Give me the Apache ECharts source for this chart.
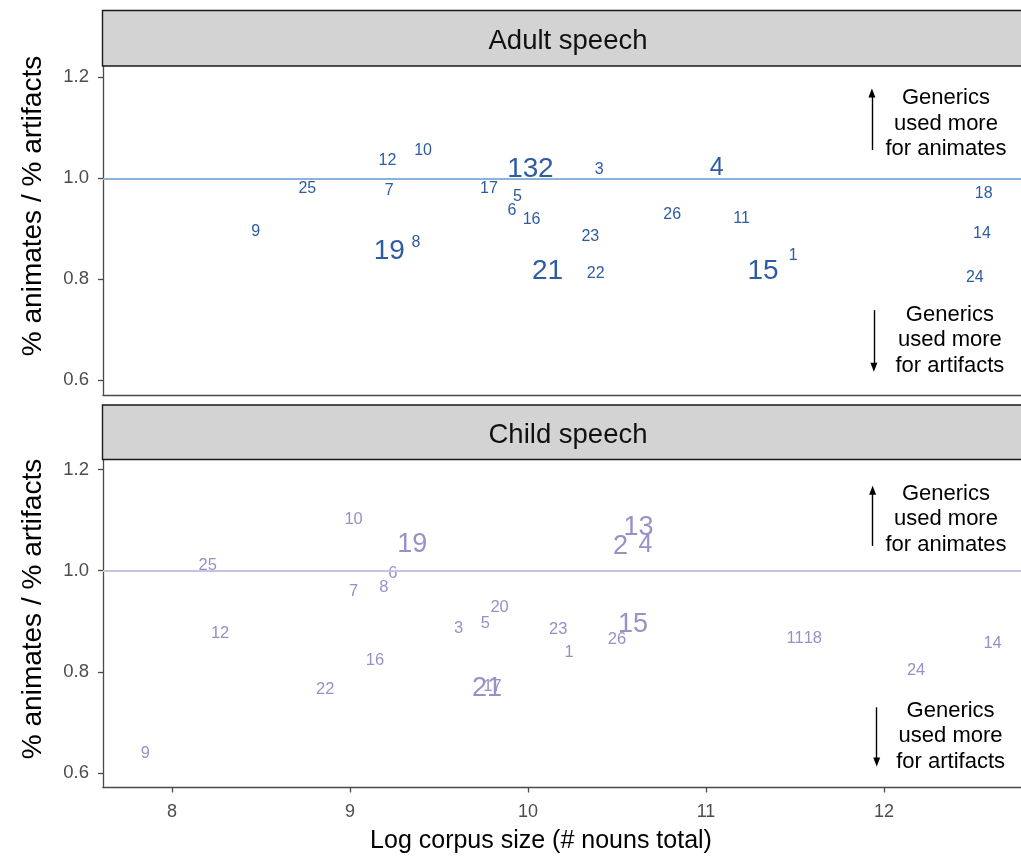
<!DOCTYPE html>
<html>
<head>
<meta charset="utf-8">
<script src="https://cdn.jsdelivr.net/npm/echarts@6/dist/echarts.min.js"></script>
<style>
  html, body { margin: 0; padding: 0; background: #ffffff; }
  #chart { width: 1021px; height: 857px; }
</style>
</head>
<body>
<div id="chart"></div>
<script>
// ---- Data: language id, log corpus size, ratio (% animates / % artifacts), label size ----
const adultIds   = [1, 2, 3, 4, 5, 6, 7, 8, 9, 10, 11, 12, 13, 14, 15, 16, 17, 18, 19, 21, 22, 23, 24, 25, 26];
const adultLogN  = [11.49, 10.10, 10.40, 11.06, 9.94, 9.91, 9.22, 9.37, 8.47, 9.41, 11.20, 9.21, 9.97, 12.55, 11.32, 10.02, 9.78, 12.56, 9.22, 10.11, 10.38, 10.35, 12.51, 8.76, 10.81];
const adultRatio = [0.850, 1.020, 1.020, 1.023, 0.966, 0.939, 0.979, 0.876, 0.898, 1.057, 0.924, 1.038, 1.020, 0.894, 0.818, 0.921, 0.983, 0.973, 0.859, 0.818, 0.814, 0.888, 0.807, 0.983, 0.931];
const adultSize  = [16, 28, 16, 25, 16, 16, 16, 16, 16, 16, 16, 16, 28, 16, 28, 16, 16, 16, 28, 28, 16, 16, 16, 16, 16];

const childIds   = [1, 2, 3, 4, 5, 6, 7, 8, 9, 10, 11, 12, 13, 14, 15, 16, 17, 18, 19, 20, 21, 22, 23, 24, 25, 26];
const childLogN  = [10.23, 10.52, 9.61, 10.66, 9.76, 9.24, 9.02, 9.19, 7.85, 9.02, 11.50, 8.27, 10.62, 12.61, 10.59, 9.14, 9.80, 11.60, 9.35, 9.84, 9.77, 8.86, 10.17, 12.18, 8.20, 10.50];
const childRatio = [0.842, 1.051, 0.889, 1.054, 0.899, 0.997, 0.962, 0.970, 0.642, 1.105, 0.870, 0.879, 1.089, 0.860, 0.897, 0.825, 0.775, 0.870, 1.054, 0.931, 0.771, 0.769, 0.886, 0.805, 1.013, 0.868];
const childSize  = [16.5, 27, 16.5, 25, 16.5, 16.5, 16.5, 16.5, 16.5, 16.5, 16.5, 16.5, 27, 16.5, 27, 16.5, 16.5, 16.5, 27, 16.5, 27, 16.5, 16.5, 16.5, 16.5, 16.5];

const xTickValues = [8, 9, 10, 11, 12];
const yTickValues = [0.6, 0.8, 1.0, 1.2];
const referenceRatio = 1.0;

// Panel titles and annotation text
const panelTitles = ['Adult speech', 'Child speech'];
const xTitle = 'Log corpus size (# nouns total)';
const yTitle = '% animates / % artifacts';
const upNote = 'Generics\nused more\nfor animates';
const downNote = 'Generics\nused more\nfor artifacts';

// Annotation anchors in data units: [arrowX, arrowFrom, arrowTo, textX, textY]
const upAnnot   = [[11.932, 1.056, 1.169, 12.348, 1.110], [11.936, 1.049, 1.159, 12.348, 1.104]];
const downAnnot = [[11.943, 0.739, 0.626, 12.370, 0.682], [11.959, 0.730, 0.622, 12.374, 0.675]];

// ---- Style / layout ----
const FONT = '"Liberation Sans", Arial, Helvetica, sans-serif';
const labelColors = ['#2E5CA0', '#9890C6'];
const lineColors  = ['#8AB4DE', '#C9C3E3'];
const AXIS_COLOR = '#4a4a4a';
const GRID_LEFT = 103;
const PLOT_W = 930;
const panels = [
  { stripTop: 10.5, top: 66,    height: 329, yMin: 0.571,  yMax: 1.2225, titleY: 206 },
  { stripTop: 405,  top: 459.5, height: 328, yMin: 0.5715, yMax: 1.2198, titleY: 609 }
];
const X_MIN = 7.612, X_MAX = 12.837;

const chart = echarts.init(document.getElementById('chart'), null, { renderer: 'canvas' });

function labelData(ids, xs, ys, sizes) {
  return ids.map((id, i) => ({
    name: String(id),
    value: [xs[i], ys[i]],
    label: { fontSize: sizes[i] }
  }));
}

const grids = panels.map(p => ({
  left: GRID_LEFT, top: p.top, width: PLOT_W, height: p.height,
  containLabel: false, outerBoundsMode: 'none'
}));

const xAxes = panels.map((p, i) => ({
  type: 'value',
  gridIndex: i,
  min: X_MIN,
  max: X_MAX,
  axisLine: { show: true, onZero: false, lineStyle: { color: AXIS_COLOR, width: 1.3 } },
  axisTick: { show: i === 1, length: 5, customValues: xTickValues, lineStyle: { color: AXIS_COLOR, width: 1.3 } },
  axisLabel: {
    show: i === 1, customValues: xTickValues, margin: 16,
    color: '#4D4D4D', fontSize: 18, fontFamily: FONT,
    formatter: v => String(Math.round(v))
  },
  splitLine: { show: false }
}));

const yAxes = panels.map((p, i) => ({
  type: 'value',
  gridIndex: i,
  min: p.yMin,
  max: p.yMax,
  axisLine: { show: true, onZero: false, lineStyle: { color: AXIS_COLOR, width: 1.3 } },
  axisTick: { show: true, length: 5, customValues: yTickValues, lineStyle: { color: AXIS_COLOR, width: 1.3 } },
  axisLabel: {
    show: true, customValues: yTickValues, margin: 14,
    color: '#4D4D4D', fontSize: 18.5, fontFamily: FONT,
    padding: [4, 0, 0, 0],
    formatter: v => v.toFixed(1)
  },
  splitLine: { show: false }
}));

const groups = [
  labelData(adultIds, adultLogN, adultRatio, adultSize),
  labelData(childIds, childLogN, childRatio, childSize)
];

const series = [];
panels.forEach((p, i) => {
  // horizontal reference at ratio 1 plus the two direction arrows
  series.push({
    type: 'scatter', xAxisIndex: i, yAxisIndex: i, data: [], z: 1, silent: true,
    markLine: {
      silent: true, symbol: 'none', label: { show: false },
      lineStyle: { color: lineColors[i], width: 2.2, type: 'solid', opacity: 1 },
      data: [{ yAxis: referenceRatio }]
    }
  });
  series.push({
    type: 'scatter', xAxisIndex: i, yAxisIndex: i, data: [], z: 3, silent: true,
    markLine: {
      silent: true, symbol: ['none', 'triangle'], symbolSize: [7, 9],
      label: { show: false },
      lineStyle: { color: '#000000', width: 1.4, type: 'solid', opacity: 1 },
      data: [
        [{ coord: [upAnnot[i][0], upAnnot[i][1]] }, { coord: [upAnnot[i][0], upAnnot[i][2]] }],
        [{ coord: [downAnnot[i][0], downAnnot[i][1]] }, { coord: [downAnnot[i][0], downAnnot[i][2]] }]
      ]
    }
  });
  // annotation text blocks
  series.push({
    type: 'scatter', xAxisIndex: i, yAxisIndex: i, z: 3, silent: true,
    symbolSize: 0, itemStyle: { color: '#000000', opacity: 1 },
    data: [
      { name: upNote, value: [upAnnot[i][3], upAnnot[i][4]] },
      { name: downNote, value: [downAnnot[i][3], downAnnot[i][4]] }
    ],
    label: {
      show: true, position: 'inside', formatter: '{b}', opacity: 1,
      color: '#000000', fontSize: 22, lineHeight: 25.5, fontFamily: FONT,
      textBorderWidth: 0, align: 'center', verticalAlign: 'middle', offset: [0, 1]
    },
    emphasis: { disabled: true }
  });
  // language labels
  series.push({
    type: 'scatter', xAxisIndex: i, yAxisIndex: i, z: 2, silent: true,
    symbolSize: 0, itemStyle: { color: labelColors[i], opacity: 1 },
    data: groups[i],
    label: {
      show: true, position: 'inside', formatter: '{b}', opacity: 1,
      color: labelColors[i], fontFamily: FONT, textBorderWidth: 0,
      align: 'center', verticalAlign: 'middle', offset: [0, 1.5]
    },
    emphasis: { disabled: true }
  });
});

// facet strips and axis titles
const graphics = [];
panels.forEach((p, i) => {
  graphics.push({
    type: 'rect', z: 10, silent: true,
    shape: { x: GRID_LEFT - 0.5, y: p.stripTop, width: PLOT_W + 20, height: p.top - p.stripTop },
    style: { fill: '#D3D3D3', stroke: '#1a1a1a', lineWidth: 1.4 }
  });
  graphics.push({
    type: 'text', z: 11, silent: true,
    x: GRID_LEFT + PLOT_W / 2, y: (p.stripTop + p.top) / 2 + 3,
    style: { text: panelTitles[i], fill: '#111111', font: '27.5px ' + FONT, align: 'center', verticalAlign: 'middle' }
  });
  graphics.push({
    type: 'text', z: 11, silent: true,
    x: 33, y: p.titleY, rotation: Math.PI / 2,
    style: { text: yTitle, fill: '#000000', font: '28px ' + FONT, align: 'center', verticalAlign: 'middle' }
  });
});
graphics.push({
  type: 'text', z: 11, silent: true,
  x: 541, y: 841,
  style: { text: xTitle, fill: '#000000', font: '25px ' + FONT, align: 'center', verticalAlign: 'middle' }
});

chart.setOption({
  backgroundColor: '#ffffff',
  animation: false,
  textStyle: { fontFamily: FONT },
  grid: grids,
  xAxis: xAxes,
  yAxis: yAxes,
  series: series,
  graphic: graphics
});
</script>
</body>
</html>
